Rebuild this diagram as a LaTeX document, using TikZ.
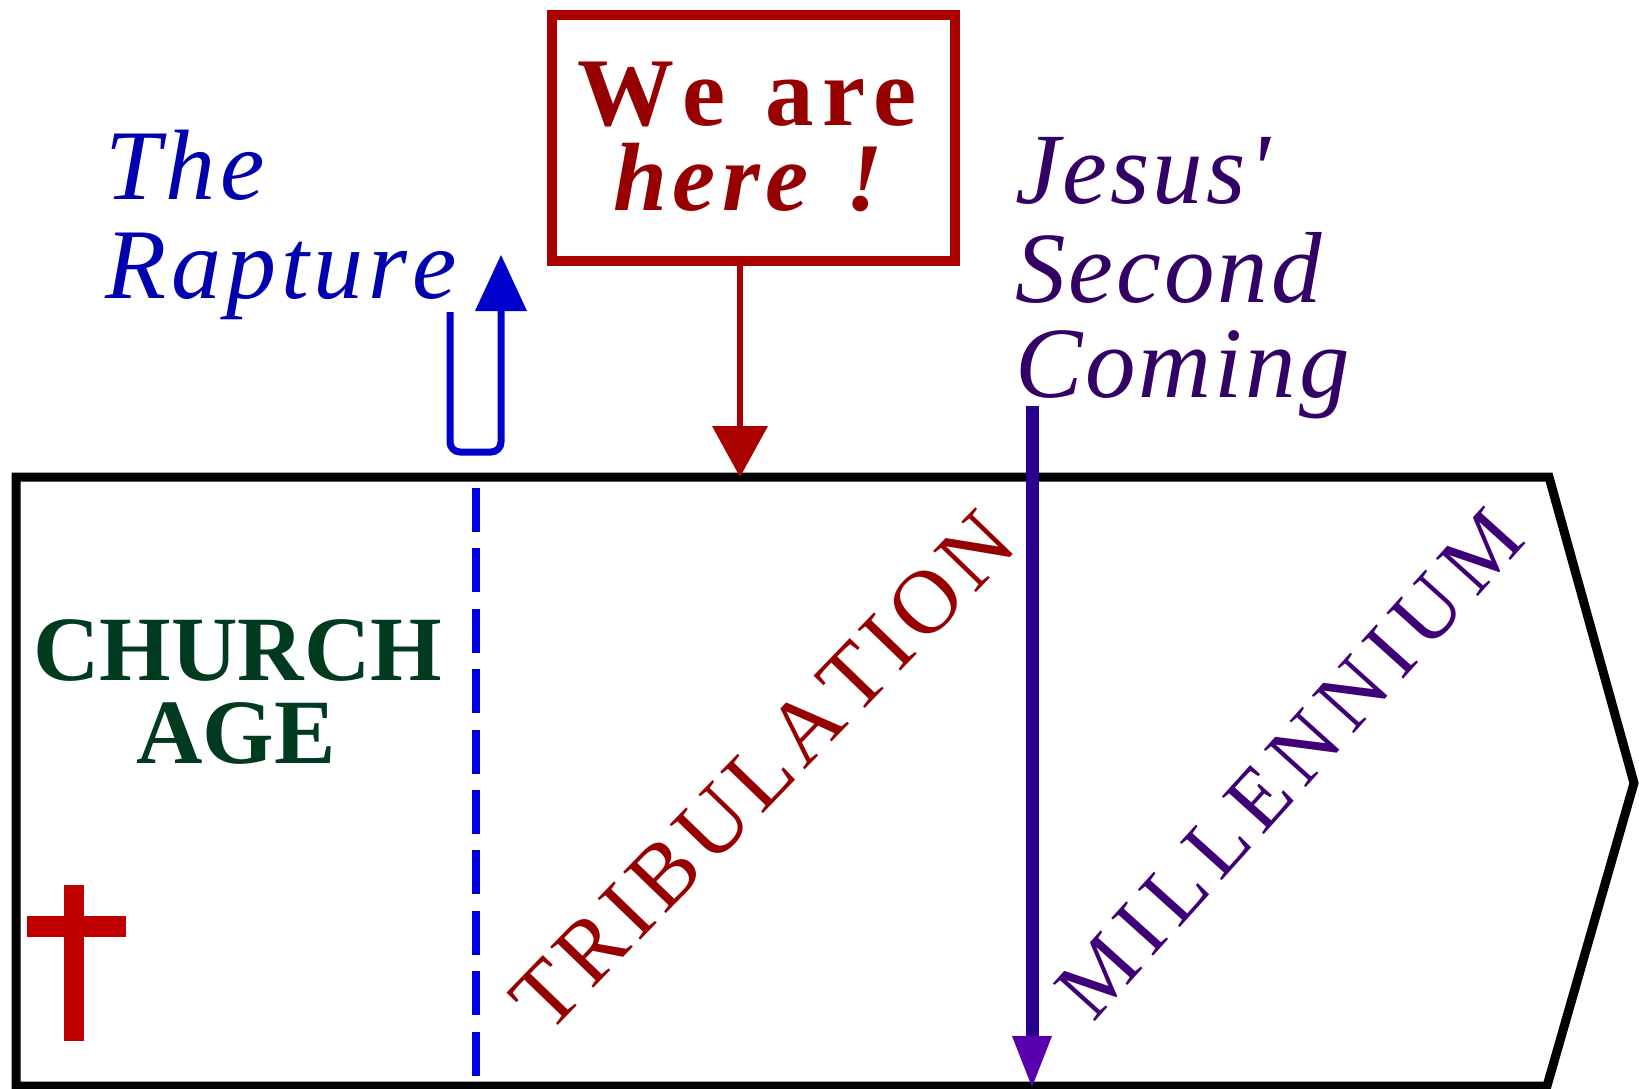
\documentclass[tikz,border=0pt]{standalone}
\usepackage{fontspec}
\setmainfont{Liberation Serif}
\usetikzlibrary{calc}
\definecolor{cRaptTxt}{RGB}{0,0,175}
\definecolor{cRaptArr}{RGB}{0,0,205}
\definecolor{cDash}{RGB}{0,0,230}
\definecolor{cHereBox}{RGB}{170,0,0}
\definecolor{cHereTxt}{RGB}{150,0,0}
\definecolor{cJesusTxt}{RGB}{51,0,102}
\definecolor{cJesusLine}{RGB}{42,0,144}
\definecolor{cJesusHead}{RGB}{88,0,175}
\definecolor{cChurch}{RGB}{0,58,31}
\definecolor{cCross}{RGB}{192,0,0}
\definecolor{cTrib}{RGB}{150,0,0}
\definecolor{cMill}{RGB}{63,0,119}
\makeatletter
\newcommand\lspc[2]{\begingroup\def\lspc@k{}\@tfor\lspc@c:=#2\do{\lspc@k\lspc@c\def\lspc@k{\kern#1}}\endgroup}
\makeatother
\begin{document}
\begin{tikzpicture}[x=1pt,y=-1pt,
  lbl/.style={inner sep=0pt, outer sep=0pt},
  raptfont/.style={font=\fontsize{100}{100}\selectfont\itshape},
  jesusfont/.style={font=\fontsize{101}{101}\selectfont\itshape},
  herefontA/.style={font=\fontsize{97}{97}\selectfont\bfseries},
  herefontB/.style={font=\fontsize{97}{97}\selectfont\bfseries\itshape},
  churchfont/.style={font=\fontsize{92}{92}\selectfont\bfseries},
  tribfont/.style={font=\fontsize{90.6}{90.6}\selectfont},
  millfont/.style={font=\fontsize{86}{86}\selectfont},
  frame/.style={draw=black, line width=9pt, line join=miter},
  dashline/.style={draw=cDash, line width=8pt, dash pattern=on 44pt off 16.4pt},
  herebox/.style={draw=cHereBox, line width=10pt, fill=white, inner sep=0pt},
  hereline/.style={draw=cHereBox, line width=6pt},
  jline/.style={draw=cJesusLine, line width=13pt},
  uline/.style={draw=cRaptArr, line width=7pt}
]
\useasboundingbox (0,0) rectangle (1639,1088);
\fill[white] (0,0) rectangle (1639,1088);

% timeline frame
\draw[frame] (16,477) -- (1549,477) -- (1634,783) -- (1547,1086) -- (16,1086) -- cycle;

% rapture dashed divider
\coordinate (dTop) at (476,488);
\coordinate (dBot) at (476,1077);
\draw[dashline] (dTop) -- (dBot);

% cross
\fill[cCross] (64,885) rectangle (84,1041);
\fill[cCross] (27,916) rectangle (126,937);

% CHURCH AGE
\node[lbl, anchor=base, churchfont, text=cChurch] (church1) at (238,680) {CHURCH};
\node[lbl, anchor=base, churchfont, text=cChurch] (church2) at (236,763) {AGE};

% rotated period labels
\node[lbl, rotate=46, tribfont, text=cTrib] (trib) at (763,771) {\lspc{7pt}{TRIBULATION}};
\node[lbl, rotate=48, millfont, text=cMill] (mill) at (1290,764) {\lspc{10.4pt}{MILLENNIUM}};

% The Rapture
\node[lbl, anchor=base west, raptfont, text=cRaptTxt] (rap1) at (105,199) {\lspc{5pt}{The}};
\node[lbl, anchor=base west, raptfont, text=cRaptTxt] (rap2) at (105,298) {\lspc{5pt}{Rapture}};
\coordinate (uStart) at (450,312);
\coordinate (uBase) at (501,311);
\coordinate (uTip) at (501,255);
\draw[uline, rounded corners=10pt] (uStart) -- (450,452) -- (501,452) -- (uBase);
\fill[cRaptArr] (uTip) -- ($(uBase)+(-26,0)$) -- ($(uBase)+(26,0)$) -- cycle;

% We are here
\node[herebox, minimum width=403pt, minimum height=246pt] (here) at (753.5,138) {};
\node[lbl, anchor=base, herefontA, text=cHereTxt] (here1) at (747,125) {\lspc{8pt}{We{\ }are}};
\node[lbl, anchor=base, herefontB, text=cHereTxt] (here2) at (748,210) {\lspc{6pt}{here{\ }!}};
\coordinate (hereBase) at (740,426);
\coordinate (hereTip) at (740,477);
\draw[hereline] (here.south -| hereBase) -- (hereBase);
\fill[cHereBox] (hereTip) -- ($(hereBase)+(-28,0)$) -- ($(hereBase)+(28,0)$) -- cycle;

% Jesus' Second Coming
\node[lbl, anchor=base west, jesusfont, text=cJesusTxt] (jes1) at (1015,203) {\lspc{3pt}{Jesus\textquotesingle}};
\node[lbl, anchor=base west, jesusfont, text=cJesusTxt] (jes2) at (1015,302) {\lspc{3pt}{Second}};
\node[lbl, anchor=base west, jesusfont, text=cJesusTxt] (jes3) at (1015,397) {\lspc{3pt}{Coming}};
\coordinate (jTop) at (1032,406);
\coordinate (jBase) at (1032,1036);
\coordinate (jTip) at (1032,1087);
\draw[jline] (jTop) -- (jBase);
\fill[cJesusHead] (jTip) -- ($(jBase)+(-20,0)$) -- ($(jBase)+(20,0)$) -- cycle;
\end{tikzpicture}
\end{document}
